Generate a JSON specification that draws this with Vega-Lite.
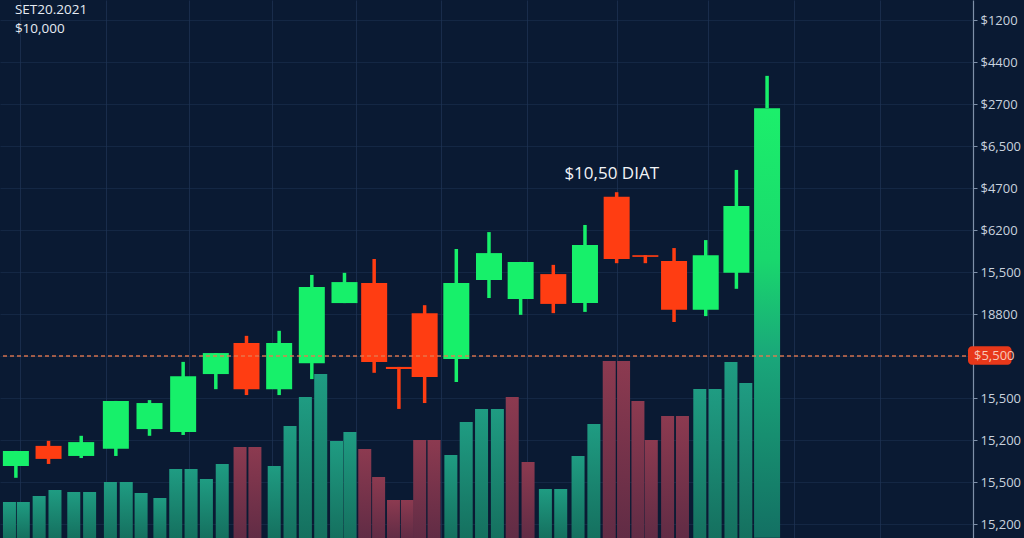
{
  "$schema": "https://vega.github.io/schema/vega-lite/v6.json",
  "width": 973,
  "height": 538,
  "autosize": {"type": "none"},
  "padding": {"left": 0, "top": 0, "right": 51, "bottom": 0},
  "background": "#0a1a33",
  "config": {
    "view": {"stroke": null},
    "font": "Open Sans",
    "axis": {"gridColor": "#1f3556", "gridOpacity": 0.7, "gridWidth": 1}
  },
  "datasets": {
    "candles": [
      {"t": 11, "open": 1.38, "close": 1.74, "high": 1.74, "low": 1.10, "dir": "up"},
      {"t": 44, "open": 1.86, "close": 1.55, "high": 1.98, "low": 1.43, "dir": "down"},
      {"t": 77, "open": 1.62, "close": 1.95, "high": 2.10, "low": 1.57, "dir": "up"},
      {"t": 112, "open": 1.79, "close": 2.93, "high": 2.93, "low": 1.62, "dir": "up"},
      {"t": 146, "open": 2.26, "close": 2.88, "high": 2.95, "low": 2.10, "dir": "up"},
      {"t": 180, "open": 2.19, "close": 3.52, "high": 3.86, "low": 2.12, "dir": "up"},
      {"t": 213, "open": 3.57, "close": 4.07, "high": 4.07, "low": 3.21, "dir": "up"},
      {"t": 244, "open": 4.31, "close": 3.21, "high": 4.48, "low": 3.07, "dir": "down"},
      {"t": 277, "open": 3.21, "close": 4.31, "high": 4.60, "low": 3.07, "dir": "up"},
      {"t": 310, "open": 3.83, "close": 5.64, "high": 5.93, "low": 3.45, "dir": "up"},
      {"t": 343, "open": 5.26, "close": 5.76, "high": 5.98, "low": 5.26, "dir": "up"},
      {"t": 373, "open": 5.74, "close": 3.86, "high": 6.31, "low": 3.60, "dir": "down"},
      {"t": 398, "open": 3.74, "close": 3.69, "high": 3.74, "low": 2.74, "dir": "down"},
      {"t": 424, "open": 5.02, "close": 3.50, "high": 5.21, "low": 2.88, "dir": "down"},
      {"t": 456, "open": 3.93, "close": 5.74, "high": 6.55, "low": 3.38, "dir": "up"},
      {"t": 489, "open": 5.81, "close": 6.45, "high": 6.95, "low": 5.38, "dir": "up"},
      {"t": 521, "open": 5.36, "close": 6.24, "high": 6.24, "low": 4.98, "dir": "up"},
      {"t": 554, "open": 5.95, "close": 5.24, "high": 6.17, "low": 5.02, "dir": "down"},
      {"t": 586, "open": 5.26, "close": 6.64, "high": 7.12, "low": 5.05, "dir": "up"},
      {"t": 618, "open": 7.79, "close": 6.31, "high": 7.90, "low": 6.21, "dir": "down"},
      {"t": 647, "open": 6.40, "close": 6.36, "high": 6.40, "low": 6.21, "dir": "down"},
      {"t": 676, "open": 6.26, "close": 5.10, "high": 6.57, "low": 4.81, "dir": "down"},
      {"t": 708, "open": 5.10, "close": 6.40, "high": 6.76, "low": 4.95, "dir": "up"},
      {"t": 739, "open": 5.98, "close": 7.57, "high": 8.43, "low": 5.60, "dir": "up"},
      {"t": 770, "open": -0.33, "close": 9.90, "high": 10.67, "low": 9.90, "dir": "up"}
    ],
    "volume": [
      {"t": 4.5, "vol": 360, "dir": "up"},
      {"t": 18.5, "vol": 360, "dir": "up"},
      {"t": 34.5, "vol": 420, "dir": "up"},
      {"t": 50.5, "vol": 480, "dir": "up"},
      {"t": 69.5, "vol": 460, "dir": "up"},
      {"t": 85.5, "vol": 460, "dir": "up"},
      {"t": 106.5, "vol": 560, "dir": "up"},
      {"t": 122.5, "vol": 560, "dir": "up"},
      {"t": 137.5, "vol": 450, "dir": "up"},
      {"t": 156.5, "vol": 400, "dir": "up"},
      {"t": 172.5, "vol": 690, "dir": "up"},
      {"t": 188, "vol": 690, "dir": "up"},
      {"t": 203.5, "vol": 590, "dir": "up"},
      {"t": 219.5, "vol": 740, "dir": "up"},
      {"t": 237.5, "vol": 910, "dir": "down"},
      {"t": 252.5, "vol": 910, "dir": "down"},
      {"t": 272, "vol": 720, "dir": "up"},
      {"t": 288, "vol": 1120, "dir": "up"},
      {"t": 303.5, "vol": 1410, "dir": "up"},
      {"t": 319, "vol": 1640, "dir": "up"},
      {"t": 335, "vol": 970, "dir": "up"},
      {"t": 348.5, "vol": 1060, "dir": "up"},
      {"t": 363.5, "vol": 890, "dir": "down"},
      {"t": 377.5, "vol": 610, "dir": "down"},
      {"t": 392.5, "vol": 380, "dir": "down"},
      {"t": 406.5, "vol": 380, "dir": "down"},
      {"t": 419, "vol": 980, "dir": "down"},
      {"t": 433.5, "vol": 980, "dir": "down"},
      {"t": 450.5, "vol": 830, "dir": "up"},
      {"t": 466, "vol": 1160, "dir": "up"},
      {"t": 481.5, "vol": 1290, "dir": "up"},
      {"t": 497.5, "vol": 1290, "dir": "up"},
      {"t": 512.5, "vol": 1410, "dir": "down"},
      {"t": 528.5, "vol": 760, "dir": "down"},
      {"t": 546, "vol": 490, "dir": "up"},
      {"t": 561.5, "vol": 490, "dir": "up"},
      {"t": 579, "vol": 820, "dir": "up"},
      {"t": 595, "vol": 1140, "dir": "up"},
      {"t": 610.5, "vol": 1770, "dir": "down"},
      {"t": 625, "vol": 1770, "dir": "down"},
      {"t": 639.5, "vol": 1370, "dir": "down"},
      {"t": 653, "vol": 980, "dir": "down"},
      {"t": 669.5, "vol": 1220, "dir": "down"},
      {"t": 684.5, "vol": 1220, "dir": "down"},
      {"t": 702, "vol": 1490, "dir": "up"},
      {"t": 717.5, "vol": 1490, "dir": "up"},
      {"t": 733.5, "vol": 1760, "dir": "up"},
      {"t": 748.5, "vol": 1550, "dir": "up"}
    ],
    "notes": [
      {"t": 10, "p": 12.14, "label": "SET20.2021", "kind": "corner"},
      {"t": 10, "p": 11.69, "label": "$10,000", "kind": "corner"},
      {"t": 613, "p": 8.33, "label": "$10,50 DIAT", "kind": "annot"}
    ],
    "marker": [
      {"t": 973, "t2": 1017, "lo": 3.79, "hi": 4.23, "p": 4, "label": "$5,500"}
    ]
  },
  "resolve": {"scale": {"y": "independent"}},
  "layer": [
    {
      "data": {"name": "volume"},
      "encoding": {
        "x": {"field": "t", "type": "quantitative", "scale": {"domain": [0, 973], "nice": false, "zero": false},
          "axis": {"values": [15, 102, 186, 270, 355, 441, 527, 618, 710, 797, 884], "labels": false, "ticks": false, "domain": false, "title": null, "grid": true}},
        "y": {"field": "vol", "type": "quantitative", "scale": {"domain": [0, 5380], "nice": false}, "axis": null}
      },
      "layer": [
        {
          "transform": [{"filter": "datum.dir == 'up'"}],
          "mark": {"type": "bar", "size": 13, "color": {"gradient": "linear", "x1": 0, "y1": 0, "x2": 0, "y2": 1,
            "stops": [{"offset": 0, "color": "#1f9c82"}, {"offset": 1, "color": "#15705f"}]}}
        },
        {
          "transform": [{"filter": "datum.dir == 'down'"}],
          "mark": {"type": "bar", "size": 13, "color": {"gradient": "linear", "x1": 0, "y1": 0, "x2": 0, "y2": 1,
            "stops": [{"offset": 0, "color": "#8c3a50"}, {"offset": 1, "color": "#612c45"}]}}
        }
      ]
    },
    {
      "layer": [
        {
          "data": {"name": "candles"},
          "mark": {"type": "rule", "strokeWidth": 3.5},
          "encoding": {
            "x": {"field": "t", "type": "quantitative", "scale": {"domain": [0, 973], "nice": false, "zero": false}},
            "y": {"field": "low", "type": "quantitative",
              "scale": {"domain": [-0.3333, 12.4762], "nice": false, "zero": false},
              "axis": {
                "orient": "right",
                "title": null,
                "values": [0, 0.5, 1, 1.5, 2, 2.5, 3, 3.5, 4, 4.5, 5, 5.5, 6, 6.5, 7, 7.5, 8, 8.5, 9, 9.5, 10, 10.5, 11, 11.5, 12],
                "labelExpr": "(datum.value % 1 != 0 || datum.value == 4) ? '' : ['15,200','15,500','15,200','15,500','','18800','15,500','$6200','$4700','$6,500','$2700','$4400','$1200'][datum.value]",
                "labelColor": "#c9d2de",
                "labelFontSize": 13,
                "labelFont": "Open Sans",
                "labelPadding": 3,
                "tickSize": 4,
                "tickColor": "#7f90a8",
                "domainColor": "#7f90a8",
                "domainWidth": 1.2,
                "grid": true,
                "gridOpacity": {"condition": {"test": "datum.value % 1 != 0", "value": 0}, "value": 0.7}
              }},
            "y2": {"field": "high"},
            "color": {"field": "dir", "type": "nominal", "scale": {"domain": ["up", "down"], "range": ["#17f06a", "#ff3d12"]}, "legend": null}
          }
        },
        {
          "data": {"name": "candles"},
          "transform": [{"filter": "datum.t != 770"}],
          "mark": {"type": "bar", "size": 26},
          "encoding": {
            "x": {"field": "t", "type": "quantitative"},
            "y": {"field": "open", "type": "quantitative"},
            "y2": {"field": "close"},
            "color": {"field": "dir", "type": "nominal", "scale": {"domain": ["up", "down"], "range": ["#17f06a", "#ff3d12"]}, "legend": null}
          }
        },
        {
          "data": {"name": "candles"},
          "transform": [{"filter": "datum.t == 770"}],
          "mark": {"type": "bar", "size": 26, "color": {"gradient": "linear", "x1": 0, "y1": 0, "x2": 0, "y2": 1,
            "stops": [{"offset": 0, "color": "#1cef6b"}, {"offset": 0.35, "color": "#19d86d"}, {"offset": 0.58, "color": "#1aa67a"}, {"offset": 1, "color": "#137063"}]}},
          "encoding": {
            "x": {"field": "t", "type": "quantitative"},
            "y": {"field": "open", "type": "quantitative"},
            "y2": {"field": "close"}
          }
        },
        {
          "data": {"values": [{"level": 4}]},
          "mark": {"type": "rule", "color": "#e8794f", "strokeDash": [4, 3], "strokeWidth": 1.5, "opacity": 0.9},
          "encoding": {"y": {"field": "level", "type": "quantitative"}}
        },
        {
          "data": {"name": "marker"},
          "mark": {"type": "rect", "color": "#e8381a", "cornerRadius": 4, "clip": false},
          "encoding": {
            "x": {"field": "t", "type": "quantitative"},
            "x2": {"field": "t2"},
            "y": {"field": "lo", "type": "quantitative"},
            "y2": {"field": "hi"}
          }
        },
        {
          "data": {"name": "marker"},
          "mark": {"type": "text", "align": "left", "baseline": "middle", "dx": 6, "fontSize": 13, "color": "#f7c9b8", "font": "Open Sans", "clip": false},
          "encoding": {
            "x": {"field": "t", "type": "quantitative"},
            "y": {"field": "p", "type": "quantitative"},
            "text": {"field": "label"}
          }
        },
        {
          "data": {"name": "notes"},
          "transform": [{"filter": "datum.kind == 'corner'"}],
          "mark": {"type": "text", "align": "left", "baseline": "alphabetic", "fontSize": 13.5, "color": "#e6ebf2", "font": "Open Sans"},
          "encoding": {
            "x": {"field": "t", "type": "quantitative"},
            "y": {"field": "p", "type": "quantitative"},
            "text": {"field": "label"}
          }
        },
        {
          "data": {"name": "notes"},
          "transform": [{"filter": "datum.kind == 'annot'"}],
          "mark": {"type": "text", "align": "center", "baseline": "middle", "fontSize": 17, "color": "#f2f4f7", "font": "Open Sans"},
          "encoding": {
            "x": {"field": "t", "type": "quantitative"},
            "y": {"field": "p", "type": "quantitative"},
            "text": {"field": "label"}
          }
        }
      ]
    }
  ]
}
